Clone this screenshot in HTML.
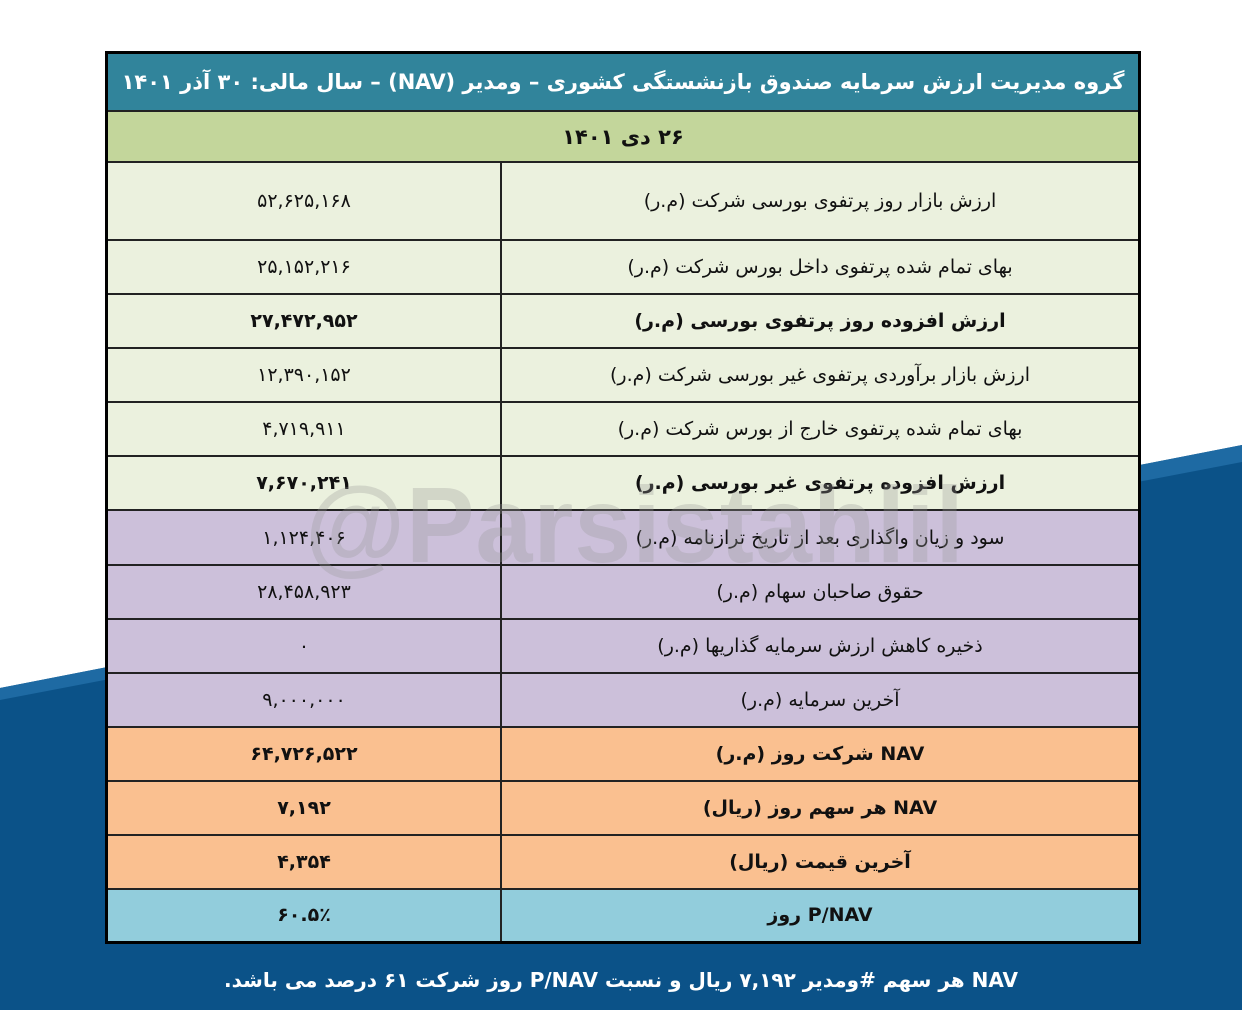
<!DOCTYPE html>
<html><head><meta charset="utf-8"><style>
body{margin:0;width:1242px;height:1010px;overflow:hidden;background:#fff;position:relative;font-family:"DejaVu Sans","Liberation Sans",sans-serif}
svg.bg{position:absolute;left:0;top:0}
table{position:absolute;left:105px;top:51px;width:1036px;border-collapse:collapse;border:3px solid #000;direction:rtl}
td{border:2px solid #222;text-align:center;padding:0;font-size:19px;color:#111;white-space:nowrap}
td.l{width:636px}
.b{font-weight:bold}
.hd{background:#31849b;color:#fff;height:56px;font-weight:bold;font-size:21px;letter-spacing:-0.3px}
.dt{background:#c3d69b;height:49px;font-weight:bold;font-size:21px}
.g{background:#ebf1de}.p{background:#ccc0da}.o{background:#fac090}.c{background:#92cddc}
.wm{position:absolute;left:305px;top:462px;font-size:108px;font-weight:bold;color:#999;opacity:.3;font-family:"Liberation Sans",sans-serif;letter-spacing:1px;transform:scaleX(0.95);transform-origin:left}
.ft{position:absolute;left:0;width:1242px;top:968px;text-align:center;color:#fff;font-weight:bold;font-size:20px;direction:rtl}
</style></head><body>
<svg class="bg" width="1242" height="1010"><polygon points="0,688 1242,445 1242,1010 0,1010" fill="#0b5288"/><polygon points="0,688 1242,445 1242,462 0,700" fill="#1e6aa3"/></svg>
<table>
<tr><td colspan="2" class="hd">گروه مدیریت ارزش سرمایه صندوق بازنشستگی کشوری – ومدیر (NAV) – سال مالی: ۳۰ آذر ۱۴۰۱</td></tr>
<tr><td colspan="2" class="dt">۲۶ دی ۱۴۰۱</td></tr>
<tr class="g" style="height:78px"><td class="l">ارزش بازار روز پرتفوی بورسی شرکت (م.ر)</td><td>۵۲,۶۲۵,۱۶۸</td></tr>
<tr class="g" style="height:54px"><td class="l">بهای تمام شده پرتفوی داخل بورس شرکت (م.ر)</td><td>۲۵,۱۵۲,۲۱۶</td></tr>
<tr class="g b" style="height:54px"><td class="l b">ارزش افزوده روز پرتفوی بورسی (م.ر)</td><td class="b">۲۷,۴۷۲,۹۵۲</td></tr>
<tr class="g" style="height:54px"><td class="l">ارزش بازار برآوردی پرتفوی غیر بورسی شرکت (م.ر)</td><td>۱۲,۳۹۰,۱۵۲</td></tr>
<tr class="g" style="height:54px"><td class="l">بهای تمام شده پرتفوی خارج از بورس شرکت (م.ر)</td><td>۴,۷۱۹,۹۱۱</td></tr>
<tr class="g" style="height:54px"><td class="l b">ارزش افزوده پرتفوی غیر بورسی (م.ر)</td><td class="b">۷,۶۷۰,۲۴۱</td></tr>
<tr class="p" style="height:55px"><td class="l">سود و زیان واگذاری بعد از تاریخ ترازنامه (م.ر)</td><td>۱,۱۲۴,۴۰۶</td></tr>
<tr class="p" style="height:54px"><td class="l">حقوق صاحبان سهام (م.ر)</td><td>۲۸,۴۵۸,۹۲۳</td></tr>
<tr class="p" style="height:54px"><td class="l">ذخیره کاهش ارزش سرمایه گذاریها (م.ر)</td><td>۰</td></tr>
<tr class="p" style="height:54px"><td class="l">آخرین سرمایه (م.ر)</td><td>۹,۰۰۰,۰۰۰</td></tr>
<tr class="o" style="height:54px"><td class="l b">NAV شرکت روز (م.ر)</td><td class="b">۶۴,۷۲۶,۵۲۲</td></tr>
<tr class="o" style="height:54px"><td class="l b">NAV هر سهم روز (ریال)</td><td class="b">۷,۱۹۲</td></tr>
<tr class="o" style="height:54px"><td class="l b">آخرین قیمت (ریال)</td><td class="b">۴,۳۵۴</td></tr>
<tr class="c" style="height:53px"><td class="l b">P/NAV روز</td><td class="b">۶۰.۵٪</td></tr>
</table>
<div class="wm">@Parsistahlil</div>
<div class="ft">NAV هر سهم #ومدیر ۷,۱۹۲ ریال و نسبت P/NAV روز شرکت ۶۱ درصد می باشد.</div>
</body></html>
